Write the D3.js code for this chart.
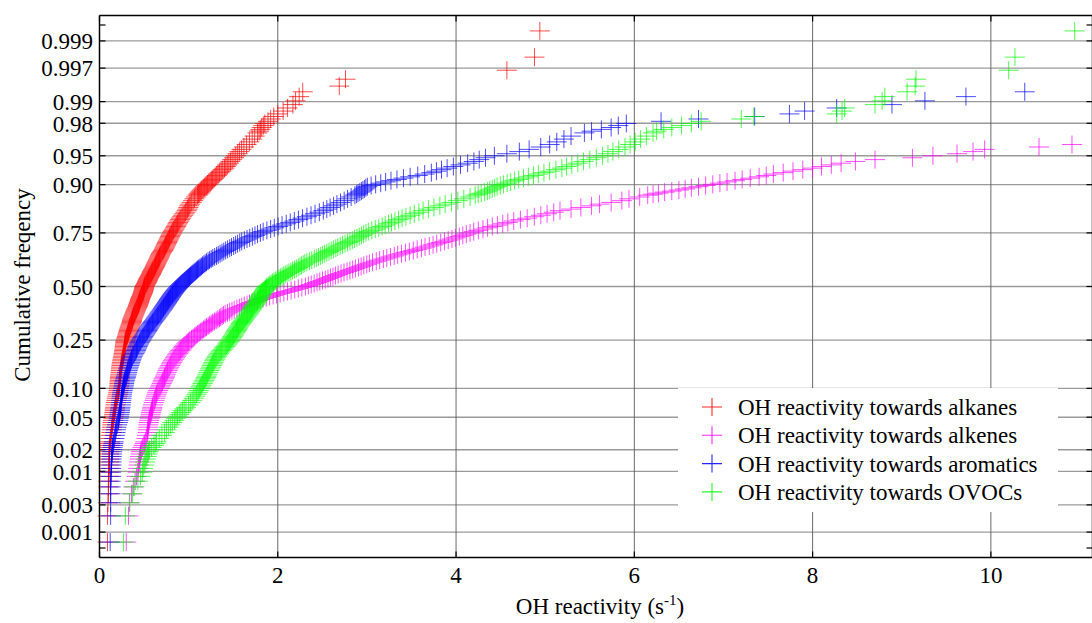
<!DOCTYPE html>
<html>
<head>
<meta charset="utf-8">
<script src="https://cdn.jsdelivr.net/npm/d3@7"></script>
<style>
  html, body { margin: 0; padding: 0; background: #fff; }
  svg { display: block; }
  text { font-family: "Liberation Serif", "Times New Roman", serif; fill: #000; }
</style>
</head>
<body>
<svg id="chart" width="1092" height="623"></svg>
<script>
// ---------------- data: cumulative frequency of each plotted point and the sorted values ----------------
const cumFreq = [
  0.00065,0.00195,0.00325,0.00455,0.00584,0.00714,0.00844,0.00974,0.01104,0.01234,
  0.01364,0.01494,0.01623,0.01753,0.01883,0.02013,0.02143,0.02273,0.02403,0.02532,
  0.02792,0.03052,0.03312,0.03571,0.03831,0.04091,0.04351,0.04610,0.04870,0.05130,0.05390,0.05649,0.05909,0.06169,0.06429,
  0.06818,0.07208,0.07597,0.07987,0.08377,0.08766,0.09156,0.09545,0.09935,0.10325,0.10714,0.11104,0.11494,0.11883,0.12273,0.12662,
  0.130,0.135,0.140,0.145,0.150,0.155,0.160,0.165,0.170,0.175,
  0.180,0.185,0.190,0.195,0.200,0.205,0.210,0.215,0.220,0.225,
  0.230,0.235,0.240,0.245,0.250,0.255,0.260,0.265,0.270,0.275,
  0.280,0.285,0.290,0.295,0.300,0.305,0.310,0.315,0.320,0.325,
  0.330,0.335,0.340,0.345,0.350,0.355,0.360,0.365,0.370,0.375,
  0.380,0.385,0.390,0.395,0.400,0.405,0.410,0.415,0.420,0.425,
  0.430,0.435,0.440,0.445,0.450,0.455,0.460,0.465,0.470,0.475,
  0.480,0.485,0.490,0.495,0.500,0.505,0.510,0.515,0.520,0.525,
  0.530,0.535,0.540,0.545,0.550,0.555,0.560,0.565,0.570,0.575,
  0.580,0.585,0.590,0.595,0.600,0.605,0.610,0.615,0.620,0.625,
  0.630,0.635,0.640,0.645,0.650,0.655,0.660,0.665,0.670,0.675,
  0.680,0.685,0.690,0.695,0.700,0.705,0.710,0.715,0.720,0.725,
  0.730,0.735,0.740,0.745,0.750,0.755,0.760,0.765,0.770,0.775,
  0.780,0.785,0.790,0.795,0.800,0.805,0.810,0.815,0.820,0.825,
  0.830,0.835,0.840,0.845,0.850,0.855,0.860,0.865,0.870,
  0.87468,0.87727,0.87987,0.88247,0.88506,0.88766,0.89026,0.89286,0.89545,0.89805,
  0.90065,0.90325,0.90584,0.90844,0.91104,0.91364,0.91623,0.91883,0.92143,0.92403,
  0.92662,0.92922,0.93182,0.93442,0.93701,0.93961,0.94221,0.94481,0.94740,0.95000,
  0.95260,0.95519,0.95779,0.96039,0.96299,0.96558,0.96818,0.97078,0.97338,
  0.97468,0.97597,0.97727,0.97857,0.97987,0.98117,0.98247,0.98377,0.98506,0.98636,
  0.98766,0.98896,0.99026,0.99156,0.99286,0.99416,0.99545,0.99675,0.99805,0.99935
];
// null = point lies beyond the visible x range
const alkanes = [
  .09,.09,.095,.10,.10,.10,.105,.105,.105,.11,
  .11,.11,.11,.11,.11,.11,.112,.115,.118,.12,
  .123,.128,.135,.137,.14,.144,.148,.152,.156,.16,.164,.167,.17,.173,.176,
  .18,.184,.189,.195,.20,.206,.211,.214,.217,.22,.222,.223,.225,.226,.228,.229,
  .231,.233,.236,.238,.241,.243,.246,.248,.251,.255,
  .258,.262,.266,.269,.271,.274,.277,.279,.282,.284,
  .286,.287,.289,.29,.294,.299,.304,.309,.313,.317,
  .321,.325,.329,.333,.336,.34,.345,.35,.355,.36,
  .363,.365,.368,.372,.377,.382,.387,.392,.397,.402,
  .407,.412,.417,.423,.428,.432,.436,.44,.444,.448,
  .451,.455,.459,.464,.469,.474,.479,.483,.487,.491,
  .495,.497,.5,.502,.505,.511,.518,.524,.53,.535,
  .54,.545,.55,.557,.563,.57,.576,.581,.586,.591,
  .597,.603,.61,.617,.622,.627,.632,.638,.643,.65,
  .656,.662,.668,.673,.678,.683,.69,.698,.707,.715,
  .721,.728,.733,.74,.746,.752,.759,.765,.772,.778,
  .785,.791,.799,.806,.814,.821,.83,.839,.849,.858,
  .866,.875,.884,.894,.904,.915,.927,.939,.952,.965,
  .978,.988,.997,1.007,1.018,1.034,1.05,1.066,1.082,
  1.10,1.11,1.12,1.13,1.14,1.15,1.163,1.175,1.186,1.199,
  1.212,1.226,1.24,1.255,1.269,1.284,1.299,1.315,1.33,1.347,
  1.365,1.383,1.402,1.417,1.433,1.451,1.469,1.488,1.509,1.529,
  1.55,1.57,1.594,1.62,1.65,1.682,1.713,1.741,1.773,
  1.79,1.805,1.82,1.838,1.855,1.89,1.92,1.955,2.0,2.06,
  2.11,2.17,2.20,2.24,2.28,2.69,2.76,4.57,4.88,4.94
];
const alkenes = [
  .30,.325,.335,.36,.38,.40,.415,.43,.435,.44,
  .445,.45,.455,.46,.465,.47,.482,.495,.505,.515,
  .525,.533,.54,.542,.545,.549,.553,.558,.563,.57,.575,.58,.585,.59,.594,
  .60,.609,.618,.626,.633,.64,.648,.658,.669,.679,.689,.698,.707,.715,.723,.73,
  .737,.745,.754,.763,.772,.784,.794,.803,.812,.824,
  .835,.847,.859,.871,.884,.896,.909,.921,.934,.946,
  .959,.972,.985,.998,1.014,1.032,1.05,1.067,1.084,1.101,
  1.118,1.135,1.151,1.168,1.184,1.20,1.219,1.236,1.253,1.27,
  1.289,1.309,1.328,1.346,1.36,1.376,1.391,1.41,1.436,1.46,
  1.486,1.511,1.541,1.569,1.596,1.624,1.655,1.683,1.711,1.742,
  1.772,1.803,1.834,1.871,1.909,1.948,1.986,2.027,2.068,2.109,
  2.15,2.19,2.23,2.27,2.31,2.343,2.375,2.408,2.44,2.471,
  2.502,2.533,2.563,2.591,2.619,2.647,2.677,2.71,2.743,2.777,
  2.809,2.84,2.871,2.905,2.935,2.965,2.998,3.028,3.063,3.105,
  3.143,3.185,3.223,3.265,3.307,3.345,3.388,3.432,3.476,3.52,
  3.564,3.612,3.652,3.70,3.742,3.783,3.828,3.87,3.912,3.954,
  3.995,4.037,4.076,4.115,4.157,4.198,4.25,4.302,4.354,4.407,
  4.464,4.524,4.581,4.647,4.722,4.798,4.878,4.951,5.021,5.096,
  5.166,5.29,5.40,5.52,5.61,5.74,5.86,5.94,6.06,
  6.15,6.21,6.27,6.34,6.42,6.50,6.57,6.64,6.72,6.80,
  6.88,6.96,7.04,7.13,7.21,7.30,7.40,7.48,7.56,7.67,
  7.78,7.89,8.00,8.10,8.21,8.32,8.48,8.70,9.12,9.35,
  9.62,9.80,9.93,10.54,10.91,null,null,null,null,
  null,null,null,null,null,null,null,null,null,null,
  null,null,null,null,null,null,null,null,null,null
];
const aromatics = [
  .12,.125,.125,.125,.125,.125,.13,.13,.13,.135,
  .135,.135,.138,.14,.142,.145,.147,.15,.155,.16,
  .167,.173,.18,.185,.19,.198,.206,.212,.216,.22,.224,.227,.23,.233,.236,
  .24,.242,.244,.247,.25,.253,.256,.26,.265,.27,.273,.276,.279,.284,.29,.296,
  .30,.306,.311,.316,.321,.328,.334,.34,.346,.353,
  .358,.364,.372,.381,.392,.402,.409,.415,.422,.428,
  .435,.443,.451,.459,.467,.476,.484,.493,.503,.512,
  .521,.53,.537,.545,.552,.56,.569,.578,.587,.595,
  .605,.614,.624,.633,.642,.651,.66,.668,.677,.685,
  .695,.703,.711,.718,.726,.734,.742,.75,.758,.765,
  .773,.78,.787,.795,.803,.811,.819,.827,.836,.845,
  .854,.863,.873,.883,.893,.904,.915,.926,.938,.95,
  .962,.974,.986,.998,1.01,1.022,1.035,1.048,1.061,1.074,
  1.087,1.10,1.113,1.128,1.142,1.156,1.171,1.185,1.20,1.218,
  1.235,1.253,1.271,1.292,1.313,1.332,1.353,1.374,1.394,1.415,
  1.437,1.461,1.481,1.505,1.527,1.549,1.573,1.595,1.625,1.655,
  1.685,1.715,1.744,1.773,1.805,1.836,1.878,1.92,1.961,2.004,
  2.048,2.095,2.14,2.186,2.232,2.278,2.327,2.373,2.418,2.466,
  2.511,2.55,2.587,2.626,2.663,2.704,2.745,2.783,2.823,
  2.865,2.884,2.90,2.92,2.938,2.955,2.972,2.988,3.005,3.047,
  3.098,3.155,3.21,3.27,3.337,3.41,3.485,3.57,3.648,3.723,
  3.78,3.837,3.90,3.97,4.05,4.13,4.20,4.26,4.33,4.43,
  4.57,4.71,4.82,4.95,5.05,5.13,5.21,5.29,5.44,
  5.52,5.63,5.74,5.82,5.91,6.30,6.72,7.35,7.74,7.91,
  8.27,8.89,9.26,9.72,10.38,null,null,null,null,null
];
const ovocs = [
  .27,.29,.34,.37,.39,.43,.46,.48,.49,.50,
  .51,.52,.53,.54,.55,.56,.585,.61,.625,.64,
  .67,.70,.73,.752,.775,.798,.818,.84,.858,.875,.895,.913,.93,.95,.97,
  1.00,1.02,1.04,1.058,1.073,1.089,1.103,1.115,1.124,1.134,1.145,1.156,1.167,1.176,1.185,1.194,
  1.202,1.212,1.222,1.232,1.242,1.251,1.26,1.269,1.277,1.288,
  1.298,1.308,1.318,1.33,1.343,1.356,1.369,1.383,1.397,1.411,
  1.423,1.435,1.446,1.458,1.467,1.476,1.485,1.494,1.503,1.512,
  1.521,1.53,1.537,1.545,1.552,1.56,1.569,1.578,1.586,1.595,
  1.605,1.614,1.624,1.633,1.642,1.651,1.66,1.668,1.677,1.685,
  1.695,1.703,1.711,1.718,1.726,1.734,1.743,1.752,1.762,1.77,
  1.776,1.782,1.789,1.796,1.802,1.809,1.816,1.823,1.832,1.841,
  1.85,1.857,1.864,1.872,1.88,1.895,1.91,1.925,1.94,1.958,
  1.976,1.994,2.012,2.03,2.048,2.066,2.084,2.104,2.125,2.146,
  2.166,2.187,2.208,2.23,2.249,2.266,2.285,2.303,2.326,2.355,
  2.381,2.41,2.433,2.456,2.48,2.501,2.526,2.55,2.575,2.60,
  2.624,2.651,2.673,2.70,2.727,2.754,2.783,2.81,2.836,2.862,
  2.888,2.914,2.939,2.963,2.99,3.016,3.055,3.094,3.133,3.171,
  3.205,3.242,3.276,3.314,3.355,3.395,3.438,3.485,3.532,3.583,
  3.63,3.69,3.752,3.818,3.878,3.949,4.02,4.087,4.158,
  4.215,4.248,4.282,4.32,4.352,4.379,4.406,4.433,4.46,4.497,
  4.533,4.573,4.613,4.657,4.703,4.757,4.811,4.869,4.923,4.986,
  5.05,5.12,5.187,5.24,5.299,5.366,5.43,5.50,5.573,5.642,
  5.704,5.76,5.825,5.895,5.953,6.01,6.07,6.135,6.21,
  6.25,6.33,6.42,6.53,6.64,6.75,7.20,7.34,8.27,8.33,
  8.36,8.70,8.78,8.81,9.06,9.15,9.16,10.20,10.27,10.94
];
const seriesNames = ["OH reactivity towards alkanes","OH reactivity towards alkenes","OH reactivity towards aromatics","OH reactivity towards OVOCs"];
const seriesColors = ["#ff0000","#ff00ff","#0000ff","#00ff00"];
const xTicks = [0,2,4,6,8,10];
const yTickValues = [0.001,0.003,0.01,0.02,0.05,0.10,0.25,0.50,0.75,0.90,0.95,0.98,0.99,0.997,0.999];
const yTickLabels = ["0.001","0.003","0.01","0.02","0.05","0.10","0.25","0.50","0.75","0.90","0.95","0.98","0.99","0.997","0.999"];
const yMinorTicks = [0.0005,0.9995];

// ---------------- normal probability transform ----------------
function probit(p){
  const a=[-3.969683028665376e+01,2.209460984245205e+02,-2.759285104469687e+02,1.383577518672690e+02,-3.066479806614716e+01,2.506628277459239e+00];
  const b=[-5.447609879822406e+01,1.615858368580409e+02,-1.556989798598866e+02,6.680131188771972e+01,-1.328068155288572e+01];
  const c=[-7.784894002430293e-03,-3.223964580411365e-01,-2.400758277161838e+00,-2.549732539343734e+00,4.374664141464968e+00,2.938163982698783e+00];
  const d=[7.784695709041462e-03,3.224671290700398e-01,2.445134137142996e+00,3.754408661907416e+00];
  const pl=0.02425, ph=1-pl; let q,r;
  if(p<pl){q=Math.sqrt(-2*Math.log(p));return (((((c[0]*q+c[1])*q+c[2])*q+c[3])*q+c[4])*q+c[5])/((((d[0]*q+d[1])*q+d[2])*q+d[3])*q+1);}
  if(p<=ph){q=p-0.5;r=q*q;return (((((a[0]*r+a[1])*r+a[2])*r+a[3])*r+a[4])*r+a[5])*q/(((((b[0]*r+b[1])*r+b[2])*r+b[3])*r+b[4])*r+1);}
  q=Math.sqrt(-2*Math.log(1-p));return -(((((c[0]*q+c[1])*q+c[2])*q+c[3])*q+c[4])*q+c[5])/((((d[0]*q+d[1])*q+d[2])*q+d[3])*q+1);
}

// ---------------- layout ----------------
const L=99.5, R=1092.5, T=15.5, B=557.5;
const x = d3.scaleLinear().domain([0, 11.14]).range([L, R]);
const zScale = d3.scaleLinear().domain([-3.41, 3.41]).range([B, T]);
const y = p => zScale(probit(p));

const svg = d3.select("#chart");
const g = svg.append("g");

// grid
g.selectAll("line.hgrid").data(yTickValues).enter().append("line")
  .attr("x1",L).attr("x2",R).attr("y1",d=>y(d)).attr("y2",d=>y(d))
  .attr("stroke","#9a9a9a").attr("stroke-width",1.4);
g.selectAll("line.vgrid").data(xTicks.filter(d=>d>0)).enter().append("line")
  .attr("x1",d=>x(d)).attr("x2",d=>x(d)).attr("y1",T).attr("y2",B)
  .attr("stroke","#5a5a5a").attr("stroke-width",0.9);

// ticks (inward, all four sides)
const tl = 6;
yTickValues.concat(yMinorTicks).forEach(v=>{
  g.append("line").attr("x1",L).attr("x2",L+tl).attr("y1",y(v)).attr("y2",y(v)).attr("stroke","#000").attr("stroke-width",1.2);
  g.append("line").attr("x1",R).attr("x2",R-tl).attr("y1",y(v)).attr("y2",y(v)).attr("stroke","#000").attr("stroke-width",1.2);
});
xTicks.forEach(v=>{
  g.append("line").attr("x1",x(v)).attr("x2",x(v)).attr("y1",B).attr("y2",B-tl).attr("stroke","#000").attr("stroke-width",1.2);
  g.append("line").attr("x1",x(v)).attr("x2",x(v)).attr("y1",T).attr("y2",T+tl).attr("stroke","#000").attr("stroke-width",1.2);
});

// markers
const crossPath = "M-10,0H10M0,-9V9";
const seriesData = [alkanes, alkenes, aromatics, ovocs];
seriesData.forEach((vals,si)=>{
  const n = Math.min(vals.length, cumFreq.length);
  const pts = [];
  for (let i=0;i<n;i++) if (vals[i]!==null) pts.push({p:cumFreq[i], v:vals[i]});
  g.append("g").selectAll("path").data(pts).enter().append("path")
    .attr("d",crossPath)
    .attr("transform",d=>`translate(${x(d.v)},${y(d.p)})`)
    .attr("fill","none").attr("stroke",seriesColors[si])
    .attr("stroke-width",1).attr("stroke-opacity",0.7);
});

// frame
g.append("path")
  .attr("d",`M${L},${T}H${R}M${L},${B}H${R}M${L},${T}V${B}M${R},${T}V${B}`)
  .attr("stroke","#000").attr("stroke-width",1.5).attr("fill","none");

// y tick labels
g.selectAll("text.ylab").data(yTickValues).enter().append("text")
  .attr("x",93).attr("y",d=>y(d)).attr("dy","0.36em")
  .attr("text-anchor","end").attr("font-size",23)
  .text((d,i)=>yTickLabels[i]);

// x tick labels
g.selectAll("text.xlab").data(xTicks).enter().append("text")
  .attr("x",d=>x(d)).attr("y",583).attr("text-anchor","middle").attr("font-size",23)
  .text(d=>d);

// axis titles
const xt = g.append("text").attr("x",600).attr("y",614).attr("text-anchor","middle").attr("font-size",23);
xt.append("tspan").text("OH reactivity (s");
xt.append("tspan").attr("dy",-9).attr("font-size",15).text("-1");
xt.append("tspan").attr("dy",9).text(")");

g.append("text").attr("transform","translate(30,285) rotate(-90)")
  .attr("text-anchor","middle").attr("font-size",23).text("Cumulative freqency");

// legend
const lg = g.append("g");
lg.append("rect").attr("x",678).attr("y",388).attr("width",380).attr("height",124).attr("fill","#fff");
seriesNames.forEach((nm,i)=>{
  const cy = 407 + i*28.3;
  lg.append("path").attr("d",crossPath).attr("transform",`translate(712,${cy})`)
    .attr("fill","none").attr("stroke",seriesColors[i]).attr("stroke-width",1.1).attr("stroke-opacity",0.85);
  lg.append("text").attr("x",738).attr("y",cy).attr("dy","0.35em").attr("font-size",23).text(nm);
});
</script>
</body>
</html>
